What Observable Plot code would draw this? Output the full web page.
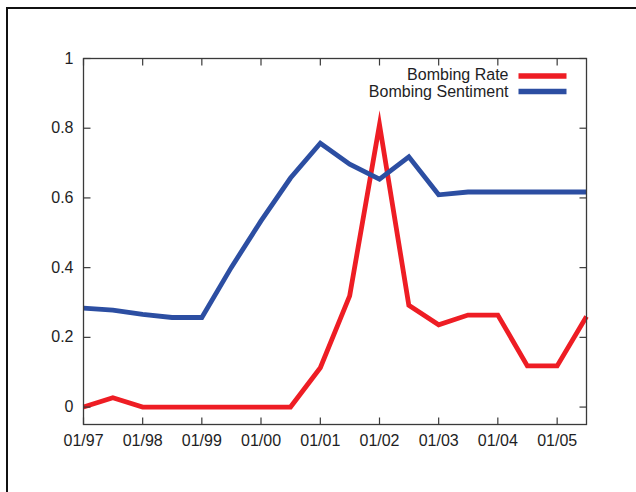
<!DOCTYPE html>
<html>
<head>
<meta charset="utf-8">
<script src="https://cdn.jsdelivr.net/npm/d3@7"></script>
<script src="https://cdn.jsdelivr.net/npm/@observablehq/plot@0.6"></script>
<style>
  html, body { margin: 0; padding: 0; background: #fff; overflow: hidden; }
  #wrap { position: relative; width: 636px; height: 492px; overflow: hidden; background: #fff; }
  #wrap svg { position: absolute; left: 0; top: 0; }
  #border { position: absolute; left: 6px; top: 7px; width: 900px; height: 900px;
            border-left: 2.5px solid #111; border-top: 2.5px solid #111; }
</style>
</head>
<body>
<div id="wrap"></div>
<script>
// Half-yearly observations
const periods = [
  "1997-01", "1997-07", "1998-01", "1998-07", "1999-01", "1999-07",
  "2000-01", "2000-07", "2001-01", "2001-07", "2002-01", "2002-07",
  "2003-01", "2003-07", "2004-01", "2004-07", "2005-01", "2005-07"
];
const bombingRate = [
  0, 0.027, 0, 0, 0, 0,
  0, 0, 0.113, 0.319, 0.81, 0.292,
  0.236, 0.264, 0.264, 0.118, 0.118, 0.26
];
const bombingSentiment = [
  0.284, 0.278, 0.266, 0.257, 0.257, 0.40,
  0.534, 0.657, 0.757, 0.697, 0.654, 0.718,
  0.609, 0.617, 0.617, 0.617, 0.617, 0.617
];
const seriesNames = ["Bombing Rate", "Bombing Sentiment"];
const seriesColors = ["#ee1d24", "#2c4ea2"];
const xTickLabels = ["01/97", "01/98", "01/99", "01/00", "01/01", "01/02", "01/03", "01/04", "01/05"];
const yTicks = [0, 0.2, 0.4, 0.6, 0.8, 1];

const parsePeriod = d3.utcParse("%Y-%m");
const parseTick = d3.utcParse("%m/%y");
const xTicks = xTickLabels.map(parseTick);

const rows = [];
periods.forEach((p, i) => {
  rows.push({date: parsePeriod(p), value: bombingRate[i], series: seriesNames[0]});
  rows.push({date: parsePeriod(p), value: bombingSentiment[i], series: seriesNames[1]});
});

// a plain straight stroke used for inward tick marks and legend swatches
const stroke = {draw(ctx, l) { ctx.moveTo(0, 0); ctx.lineTo(0, -l); }};
const tickLen = 7;
const axisColor = "#3a3a3a";
const textColor = "#1e1e24";

const chart = Plot.plot({
  width: 636,
  height: 492,
  marginLeft: 83,
  marginRight: 50,
  marginTop: 58,
  marginBottom: 68,
  style: {fontFamily: "'Liberation Sans', Arial, Helvetica, sans-serif", fontSize: "16px", background: "transparent", color: textColor},
  x: {type: "utc", domain: [parsePeriod("1997-01"), parsePeriod("2005-07")]},
  y: {domain: [-0.05, 1]},
  color: {domain: seriesNames, range: seriesColors},
  marks: [
    Plot.line(rows, {x: "date", y: "value", z: "series", stroke: "series",
      strokeWidth: 4.8, strokeLinejoin: "miter", strokeMiterlimit: 12, strokeLinecap: "butt"}),
    Plot.frame({stroke: axisColor, strokeWidth: 1.3}),
    Plot.axisX({ticks: xTicks, tickSize: 0, tickPadding: 10, tickFormat: d3.utcFormat("%m/%y"), fill: textColor, label: null}),
    Plot.axisY({ticks: yTicks, tickSize: 0, tickPadding: 10, tickFormat: d => String(d), fill: textColor, label: null}),
    // inward tick marks on all four sides
    Plot.vectorX(xTicks, {x: d => d, frameAnchor: "bottom", rotate: 0, length: tickLen, anchor: "start", shape: stroke, stroke: axisColor, strokeWidth: 1.2, strokeLinecap: "butt"}),
    Plot.vectorX(xTicks, {x: d => d, frameAnchor: "top", rotate: 180, length: tickLen, anchor: "start", shape: stroke, stroke: axisColor, strokeWidth: 1.2, strokeLinecap: "butt"}),
    Plot.vectorY(yTicks, {y: d => d, frameAnchor: "left", rotate: 90, length: tickLen, anchor: "start", shape: stroke, stroke: axisColor, strokeWidth: 1.2, strokeLinecap: "butt"}),
    Plot.vectorY(yTicks, {y: d => d, frameAnchor: "right", rotate: -90, length: tickLen, anchor: "start", shape: stroke, stroke: axisColor, strokeWidth: 1.2, strokeLinecap: "butt"}),
    // key, top right inside the frame
    Plot.text([seriesNames[0]], {frameAnchor: "top-right", text: d => d, textAnchor: "end", lineAnchor: "middle", dx: -78, dy: 16.5, fill: textColor, fontSize: 16}),
    Plot.text([seriesNames[1]], {frameAnchor: "top-right", text: d => d, textAnchor: "end", lineAnchor: "middle", dx: -78, dy: 33.5, fill: textColor, fontSize: 16}),
    Plot.vector([seriesNames[0]], {frameAnchor: "top-right", dx: -68, dy: 17.5, rotate: 90, length: 48, anchor: "start", shape: stroke, stroke: d => d, strokeWidth: 5.5, strokeLinecap: "butt"}),
    Plot.vector([seriesNames[1]], {frameAnchor: "top-right", dx: -68, dy: 33, rotate: 90, length: 48, anchor: "start", shape: stroke, stroke: d => d, strokeWidth: 5.5, strokeLinecap: "butt"})
  ]
});

const wrap = document.getElementById("wrap");
wrap.appendChild(chart);
const border = document.createElement("div");
border.id = "border";
wrap.appendChild(border);
</script>
</body>
</html>
